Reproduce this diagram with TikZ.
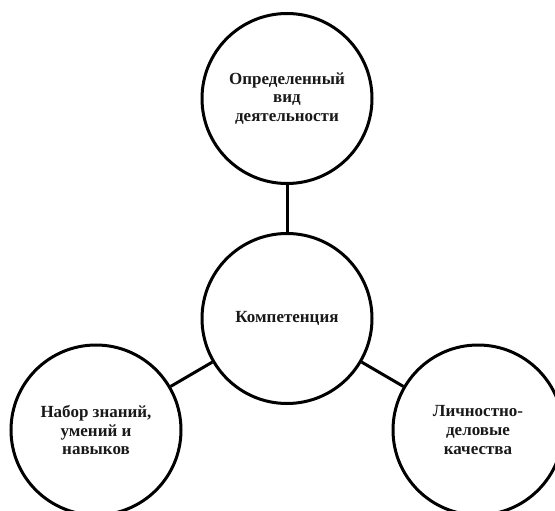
\documentclass[tikz,border=0pt]{standalone}
\usepackage{fontspec}
\setmainfont{Liberation Serif}
\begin{document}
\begin{tikzpicture}[x=1pt,y=-1pt,
  bubble/.style={circle,draw=black,line width=3pt,minimum size=170pt,inner sep=0pt,
    align=center,font=\fontsize{17}{18.6}\selectfont\bfseries,text=black!90},
  link/.style={line width=3pt,draw=black}]
\useasboundingbox (0,0) rectangle (555,511);
\node[bubble] (top) at (287,98.5) {Определенный\\вид\\деятельности};
\node[bubble] (mid) at (287,318.5) {Компетенция};
\node[bubble] (left) at (96,430) {Набор знаний,\\умений и\\навыков};
\node[bubble] (right) at (478,430) {Личностно-\\деловые\\качества};
\draw[link] (top) -- (mid);
\draw[link] (mid) -- (left);
\draw[link] (mid) -- (right);
\end{tikzpicture}
\end{document}
